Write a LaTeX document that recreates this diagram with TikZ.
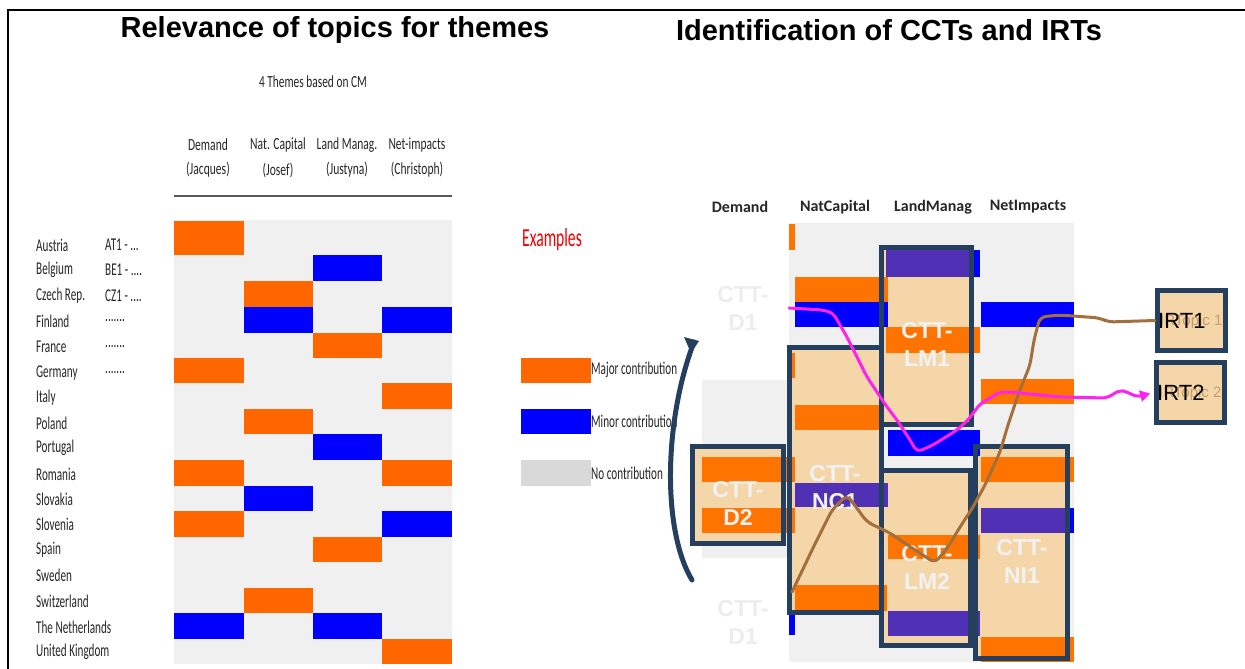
\documentclass[tikz,border=0pt]{standalone}
\usepackage{fontspec}
\usepackage{graphicx}
\setmainfont{Liberation Sans}
\newfontfamily\carl{Carlito}
\usetikzlibrary{arrows.meta}
\definecolor{org}{HTML}{FF6600}
\definecolor{org2}{HTML}{FF7300}
\definecolor{blu}{HTML}{0000FF}
\definecolor{bgg}{HTML}{F0F0F0}
\definecolor{lgray}{HTML}{D9D9D9}
\definecolor{wheatc}{HTML}{F5D6A8}
\definecolor{purp}{HTML}{5030B5}
\definecolor{navy}{HTML}{253F5E}
\definecolor{brn}{HTML}{A36F3A}
\definecolor{mag}{HTML}{FF22EE}
\definecolor{txt}{HTML}{262626}
\newcommand\cnd[2]{\scalebox{#1}[1]{#2}}
\tikzset{
  titletext/.style={font=\bfseries\fontsize{29}{32}\selectfont, inner sep=0},
  condtext/.style={font=\carl\fontsize{18}{18}\selectfont, text=txt, inner sep=0},
  headtext/.style={font=\carl\fontsize{17}{17}\selectfont, text=txt, inner sep=0},
  rhead/.style={font=\carl\bfseries\fontsize{16}{16}\selectfont, text=black!85, inner sep=0},
  ctt/.style={font=\bfseries\fontsize{23}{28}\selectfont, text=white!95!black, align=center, inner sep=0},
  cttfaded/.style={font=\bfseries\fontsize{23}{28}\selectfont, text=black!7, align=center, inner sep=0},
  frame/.style={draw=navy, line width=5pt},
  irtbox/.style={draw=navy, line width=5pt, fill=wheatc, minimum width=68pt, minimum height=60pt, inner sep=0},
  irttext/.style={font=\fontsize{22}{22}\selectfont, inner sep=0, anchor=west},
  irtfaded/.style={font=\fontsize{15}{15}\selectfont, text=brn!55!wheatc, inner sep=0, anchor=west},
  brownline/.style={draw=brn, line width=3pt, rounded corners=6pt, line cap=round},
  magline/.style={draw=mag, line width=3pt, rounded corners=5pt, line cap=round},
}
\begin{document}
\begin{tikzpicture}[x=1pt,y=-1pt]
\useasboundingbox (0,0) rectangle (1245,669);
\fill[white] (0,0) rectangle (1245,669);
% outer frame
\draw[line width=2.5pt] (8,669) -- (8,10) -- (1245,10);

% titles
\node[titletext] (t1) at (335,30) {Relevance of topics for themes};
\node[titletext] (t2) at (889,30) {Identification of CCTs and IRTs};

% ---------------- left table ----------------
\node[headtext] (themes) at (313,82) {\cnd{0.67}{4 Themes based on CM}};
\node[headtext] (h1a) at (208,145) {\cnd{0.68}{Demand}};
\node[headtext] (h1b) at (208,170) {\cnd{0.68}{(Jacques)}};
\node[headtext] (h2a) at (278,145) {\cnd{0.68}{Nat. Capital}};
\node[headtext] (h2b) at (278,170) {\cnd{0.68}{(Josef)}};
\node[headtext] (h3a) at (347,145) {\cnd{0.68}{Land Manag.}};
\node[headtext] (h3b) at (347,170) {\cnd{0.68}{(Justyna)}};
\node[headtext] (h4a) at (417,145) {\cnd{0.68}{Net-impacts}};
\node[headtext] (h4b) at (417,170) {\cnd{0.68}{(Christoph)}};
\draw[line width=2.5pt, black!65] (174,196) -- (452,196);

\fill[bgg] (174,220) rectangle (452,664);
% bars: top/bottom/left/right/colour
\foreach \t/\b/\l/\r/\c in {
  221/255/174/244/org, 255/281/313/382/blu, 281/307/244/313/org,
  307/333/244/313/blu, 307/333/382/452/blu, 333/358/313/382/org,
  358/383/174/244/org, 383/409/382/452/org, 409/434/244/313/org,
  434/460/313/382/blu, 460/486/174/244/org, 460/486/382/452/org,
  486/511/244/313/blu, 511/537/174/244/org, 511/537/382/452/blu,
  537/562/313/382/org, 588/613/244/313/org, 613/639/174/244/blu,
  613/639/313/382/blu, 639/664/382/452/org}
  {\fill[\c] (\l,\t) rectangle (\r,\b);}

% country labels
\foreach \n/\y in {Austria/245, Belgium/270, Czech Rep./296, Finland/321, France/347,
  Germany/373, Italy/398, Poland/423, Portugal/448, Romania/474, Slovakia/499,
  Slovenia/524, Spain/550, Sweden/575, Switzerland/601, The Netherlands/627,
  United Kingdom/652}
  {\node[condtext, anchor=west] (c\y) at (36,\y) {\cnd{0.62}{\n}};}
\node[condtext, anchor=west] (at1) at (105,245) {\cnd{0.62}{AT1 - ...}};
\node[condtext, anchor=west] (be1) at (105,270) {\cnd{0.62}{BE1 - ....}};
\node[condtext, anchor=west] (cz1) at (105,296) {\cnd{0.62}{CZ1 - ....}};
\node[condtext, anchor=west] (d1) at (105,321) {\cnd{0.62}{.......}};
\node[condtext, anchor=west] (d2) at (105,347) {\cnd{0.62}{.......}};
\node[condtext, anchor=west] (d3) at (105,373) {\cnd{0.62}{.......}};

% ---------------- legend ----------------
\node[font=\carl\fontsize{26}{26}\selectfont, text=red!95!black, inner sep=0, anchor=west] (ex) at (522,240) {\cnd{0.6}{Examples}};
\fill[org] (521,358) rectangle (591,383);
\fill[blu] (521,409) rectangle (591,434);
\fill[lgray] (521,460) rectangle (591,486);
\node[condtext, anchor=west] (lg1) at (591,370) {\cnd{0.62}{Major contribution}};
\node[condtext, anchor=west] (lg2) at (591,421) {\cnd{0.62}{Minor contribution}};
\node[condtext, anchor=west] (lg3) at (591,473) {\cnd{0.62}{No contribution}};

% ---------------- right panel ----------------
\node[rhead] (r1) at (740,207) {Demand};
\node[rhead] (r2) at (835,207) {NatCapital};
\node[rhead] (r3) at (933,207) {LandManag};
\node[rhead] (r4) at (1028,207) {NetImpacts};

\fill[bgg] (789,223) rectangle (1074,662);
\fill[bgg] (702,380) rectangle (789,558);

% box fills
\fill[wheatc] (881.5,247.5) rectangle (971.5,424.5);
\fill[wheatc] (789.5,347.5) rectangle (881.5,612.5);
\fill[wheatc] (692.5,446.5) rectangle (783.5,543.5);
\fill[wheatc] (881.5,470.5) rectangle (970.5,645.5);
\fill[wheatc] (975.5,446.5) rectangle (1067.5,658.5);

% bars
\fill[org2] (789,224) rectangle (795,250);
\fill[blu] (888,250) rectangle (980,277);
\fill[purp] (886,250) rectangle (974,277);
\fill[org2] (795,277) rectangle (888,302);
\fill[blu] (795,302) rectangle (888,327);
\fill[blu] (981,302) rectangle (1074,327);
\fill[org2] (886,327) rectangle (980,353);
\fill[org2] (789,353) rectangle (795,378);
\fill[org2] (981,379) rectangle (1074,404);
\fill[org2] (795,405) rectangle (880,430);
\fill[blu] (888,430) rectangle (980,456);
\fill[org2] (702,457) rectangle (795,482);
\fill[org2] (702,508) rectangle (795,533);
\fill[org2] (981,457) rectangle (1074,482);
\fill[purp] (795,483) rectangle (888,507);
\fill[blu] (981,508) rectangle (1074,533);
\fill[purp] (981,508) rectangle (1066,533);
\fill[org2] (888,535) rectangle (980,559);
\fill[org2] (795,585) rectangle (887,611);
\fill[purp] (888,611) rectangle (980,636);
\fill[blu] (789,615) rectangle (795,635);
\fill[org2] (981,637) rectangle (1074,662);

% frames
\draw[frame] (881.5,247.5) rectangle (971.5,424.5);
\draw[frame] (789.5,347.5) rectangle (881.5,612.5);
\draw[frame] (692.5,446.5) rectangle (783.5,543.5);
\draw[frame] (881.5,470.5) rectangle (970.5,645.5);
\draw[frame] (975.5,446.5) rectangle (1067.5,658.5);

% CTT labels
\node[cttfaded] (ctd1a) at (743,308) {CTT-\\D1};
\node[cttfaded] (ctd1b) at (743,622) {CTT-\\D1};
\node[ctt] (ctlm1) at (927,344) {CTT-\\LM1};
\node[ctt] (ctnc1) at (835,488) {CTT-\\NC1};
\node[ctt] (ctd2) at (738,503) {CTT-\\D2};
\node[ctt] (ctlm2) at (927,567) {CTT-\\LM2};
\node[ctt] (ctni1) at (1022,561) {CTT-\\NI1};

% IRT boxes
\node[irtbox] (irt1) at (1191.5,320.5) {};
\node[irtbox] (irt2) at (1190.5,392.5) {};
\node[irtfaded] (irt1f) at (1160,322) {IRTopic 1};
\node[irtfaded] (irt2f) at (1159,394) {IRTopic 2};
\node[irttext] (irt1t) at (1158,321) {IRT1};
\node[irttext] (irt2t) at (1157,393) {IRT2};

% bracket
\draw[navy, line width=5pt, line cap=round] (694,342) .. controls (664,420) and (662,530) .. (692,580);
\fill[navy] (684,337) -- (699,341) -- (691,353) -- cycle;

% connectors
\coordinate (bend) at (792,592);
\coordinate (mstart) at (789,308);
\draw[brownline] (irt1.west) -- (1108,322) -- (1100,318) -- (1060,315) -- (1040,317)
  -- (1034,340) -- (1030,365) -- (1018,395) -- (1008,425) -- (1000,452) -- (985,485)
  -- (973,507) -- (960,527) -- (948,547) -- (935,563) -- (912,548) -- (890,533)
  -- (867,522) -- (853,503) -- (847,495) -- (832,510) -- (813,548) -- (bend);
\draw[magline, -{Triangle[length=10pt, width=11pt]}, shorten >=4pt] (mstart) -- (823,310) -- (833,313)
  -- (847,337) -- (867,377) -- (887,407) -- (897,420) -- (910,440) -- (917,452)
  -- (933,445) -- (957,430) -- (968,420) -- (980,404) -- (1000,392) -- (1010,392)
  -- (1060,397) -- (1107,398) -- (1120,390) -- (1127,392) -- (1137,397) -- (irt2.west);
\end{tikzpicture}
\end{document}
